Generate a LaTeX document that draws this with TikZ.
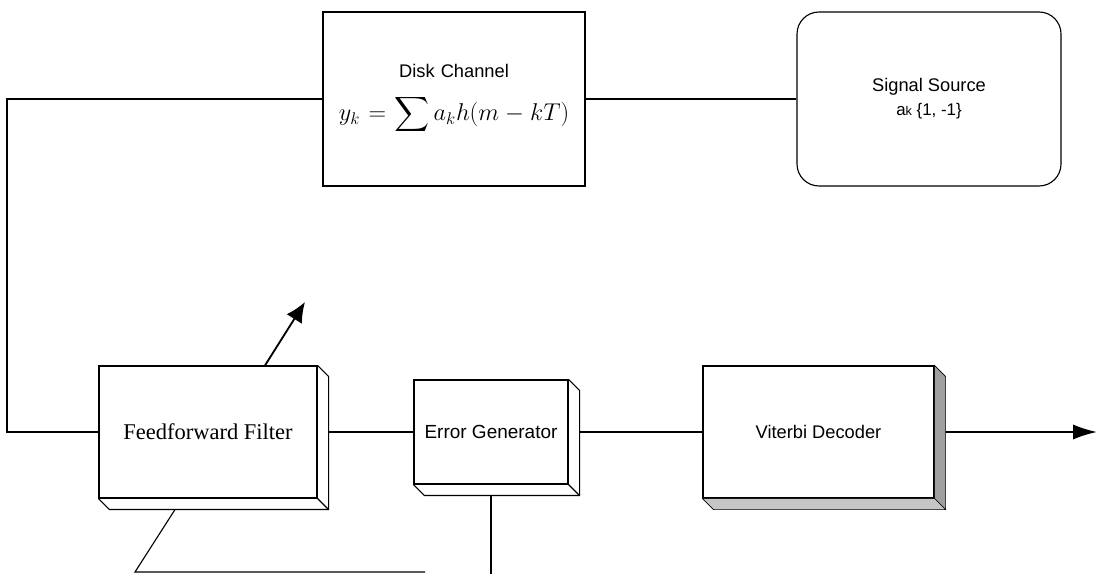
\documentclass[tikz,border=0pt]{standalone}
\usepackage{exscale}
\usepackage{fontspec}
\setmainfont{Liberation Sans}
\newfontfamily\timesfont{Liberation Serif}
\usetikzlibrary{positioning, arrows.meta}

\begin{document}
\begin{tikzpicture}[
    node distance=2cm,
    on grid,
    line width=0.8pt,
    >={Latex[length=0.6cm, width=0.38cm]},
    block/.style={draw, align=center, font=\fontsize{13}{16}\selectfont}
]
    \def\dep{0.275cm}
    \useasboundingbox (0,0) rectangle (27.55,14.35);

    \node[block, minimum width=6.55cm, minimum height=4.35cm, text width=6.2cm] (chan) at (11.35,11.875)
        {Disk Channel\par\vspace{10pt}
         {\fontsize{18}{21}\selectfont $\displaystyle y_k=\sum a_k h(m-kT)$\par}};
    \node[block, rounded corners=0.55cm, minimum width=6.6cm, minimum height=4.35cm] (src) [right=11.875cm of chan]
        {Signal Source\\[1pt] {\fontsize{12}{14}\selectfont a{\fontsize{9}{9}\selectfont k} \{1, -1\}}};
    \node[block, minimum width=5.45cm, minimum height=3.3cm, font=\timesfont\fontsize{16}{19}\selectfont] (ff) [below left=8.325cm and 6.15cm of chan] {Feedforward Filter};
    \node[block, minimum width=3.85cm, minimum height=2.6cm, font=\fontsize{13.5}{16}\selectfont] (eg) [right=7.075cm of ff] {Error Generator};
    \node[block, minimum width=5.775cm, minimum height=3.3cm] (vd) [right=8.1875cm of eg] {Viterbi Decoder};

    % 3d sides
    \foreach \n in {ff, eg} {
        \draw (\n.north east) -- ++(\dep,-\dep) -- ([shift={(\dep,-\dep)}]\n.south east)
            -- ([shift={(\dep,-\dep)}]\n.south west) -- (\n.south west);
        \draw (\n.south east) -- ++(\dep,-\dep);
    }
    \filldraw[fill=gray!75, line width=0.4pt] (vd.north east) -- ++(\dep,-\dep)
        -- ([shift={(\dep,-\dep)}]vd.south east) -- (vd.south east) -- cycle;
    \filldraw[fill=gray!45, line width=0.4pt] (vd.south east) -- ++(\dep,-\dep)
        -- ([shift={(\dep,-\dep)}]vd.south west) -- (vd.south west) -- cycle;

    \coordinate (turn) at (0.175,0);
    \coordinate (out) at (27.425,3.55);
    \coordinate (tap) at (7.625,6.8);
    \coordinate (fb1) at (3.375,0.05);
    \coordinate (fb2) at (10.625,0.05);

    \draw (src.west) -- (chan.east);
    \draw (chan.west) -- (chan.west -| turn) |- (ff.west);
    \draw ([xshift=\dep]ff.east) -- (eg.west);
    \draw ([xshift=\dep]eg.east) -- (vd.west);
    \draw[->, line width=1.3pt] ([xshift=\dep]vd.east) -- (out);
    \draw[-{Latex[length=0.5cm, width=0.45cm]}, line width=1.3pt] ([xshift=1.425cm]ff.north) -- (tap);
    \draw ([shift={(-0.825cm,-\dep)}]ff.south) -- (fb1) -- (fb2);
    \draw ([yshift=-\dep]eg.south) -- (eg.south |- 0,0);
\end{tikzpicture}
\end{document}
